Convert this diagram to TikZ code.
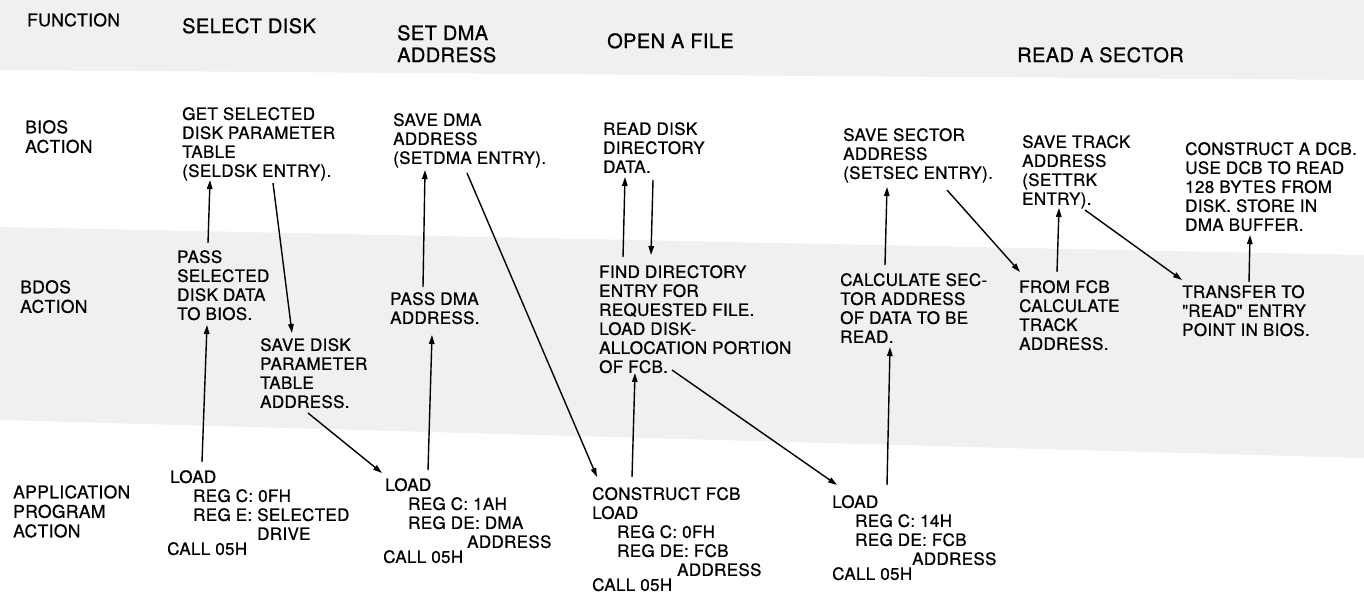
\documentclass[tikz,border=0pt]{standalone}
\usepackage{fontspec}
\setmainfont[LetterSpace=2,FakeBold=0.8]{TeX Gyre Heros}
\usetikzlibrary{arrows.meta}

\begin{document}
\begin{tikzpicture}[x=1pt, y=-1pt,
  every node/.style={inner sep=0pt, anchor=north west, align=left},
  hdr/.style={font=\fontsize{20}{22}\selectfont},
  lbl/.style={font=\fontsize{17.5}{19.5}\selectfont},
  txt/.style={font=\fontsize{17}{19}\selectfont},
  arr/.style={line width=1.4pt, -{Triangle[length=9pt,width=5.5pt]}}]
  \useasboundingbox (0,0) rectangle (1364,594);

  % Shaded bands of the page
  \fill[black!6] (0,0) -- (1364,0) -- (1364,80) -- (0,70) -- cycle;
  \fill[black!6] (0,227) -- (1364,255) -- (1364,458) -- (0,420) -- cycle;

  % Row labels
  \node[lbl] (fn)      at (27,13)  {FUNCTION};
  \node[lbl] (bioslbl) at (25,120) {BIOS\\ACTION};
  \node[lbl] (bdoslbl) at (20,280) {BDOS\\ACTION};
  \node[lbl] (applbl)  at (13,485) {APPLICATION\\PROGRAM\\ACTION};

  % Function headers
  \node[hdr] (selhd)  at (182,18)  {SELECT DISK};
  \node[hdr] (dmahd)  at (397,25)  {SET DMA\\ADDRESS};
  \node[hdr] (openhd) at (607,33)  {OPEN A FILE};
  \node[hdr] (readhd) at (1017,47) {READ A SECTOR};

  % BIOS actions
  \node[txt] (getdpt)  at (182,107)  {GET SELECTED\\DISK PARAMETER\\TABLE\\(SELDSK ENTRY).};
  \node[txt] (savedma) at (393,113)  {SAVE DMA\\ADDRESS\\(SETDMA ENTRY).};
  \node[txt] (readdir) at (603,122)  {READ DISK\\DIRECTORY\\DATA.};
  \node[txt] (savesec) at (843,128)  {SAVE SECTOR\\ADDRESS\\(SETSEC ENTRY).};
  \node[txt] (savetrk) at (1022,135) {SAVE TRACK\\ADDRESS\\(SETTRK\\ENTRY).};
  \node[txt] (mkdcb)   at (1185,142) {CONSTRUCT A DCB.\\USE DCB TO READ\\128 BYTES FROM\\DISK. STORE IN\\DMA BUFFER.};

  % BDOS actions
  \node[txt] (passsel) at (177,250)  {PASS\\SELECTED\\DISK DATA\\TO BIOS.};
  \node[txt] (savedpt) at (260,338)  {SAVE DISK\\PARAMETER\\TABLE\\ADDRESS.};
  \node[txt] (passdma) at (390,292)  {PASS DMA\\ADDRESS.};
  \node[txt] (finddir) at (599,265)  {FIND DIRECTORY\\ENTRY FOR\\REQUESTED FILE.\\LOAD DISK-\\ALLOCATION PORTION\\OF FCB.};
  \node[txt] (calcsec) at (840,273)  {CALCULATE SEC-\\TOR ADDRESS\\OF DATA TO BE\\READ.};
  \node[txt] (calctrk) at (1019,280) {FROM FCB\\CALCULATE\\TRACK\\ADDRESS.};
  \node[txt] (xfer)    at (1182,285) {TRANSFER TO\\\textquotedbl READ\textquotedbl{} ENTRY\\POINT IN BIOS.};

  % Application program actions
  \node[txt] (ldsel)  at (167,470) {\hspace*{3pt}LOAD\\
    \hspace*{26pt}REG C: 0FH\\
    \hspace*{26pt}REG E: SELECTED\\
    \hspace*{26pt}\phantom{REG E: }DRIVE\\[-4pt]
    CALL 05H};
  \node[txt] (lddma)  at (383,478) {\hspace*{2pt}LOAD\\
    \hspace*{25pt}REG C: 1AH\\
    \hspace*{25pt}REG DE: DMA\\
    \hspace*{84pt}ADDRESS\\[-4pt]
    CALL 05H};
  \node[txt] (ldopen) at (592,487) {CONSTRUCT FCB\\LOAD\\
    \hspace*{25pt}REG C: 0FH\\
    \hspace*{25pt}REG DE: FCB\\
    \hspace*{85pt}ADDRESS\\[-4pt]
    CALL 05H};
  \node[txt] (ldread) at (832,495) {LOAD\\
    \hspace*{23pt}REG C: 14H\\
    \hspace*{23pt}REG DE: FCB\\
    \hspace*{80pt}ADDRESS\\[-4pt]
    CALL 05H};

  % Select disk
  \draw[arr] ([shift={(31,-7)}]passsel.north west) -- ([shift={(28,73)}]getdpt.north west);
  \draw[arr] ([shift={(91,76)}]getdpt.north west) -- ([shift={(32,-5)}]savedpt.north west);
  \draw[arr] ([shift={(35,-8)}]ldsel.north west) -- ([shift={(30,75)}]passsel.north west);
  \draw[arr] ([shift={(48,75)}]savedpt.north west) -- ([shift={(-1,-5)}]lddma.north west);

  % Set DMA address
  \draw[arr] ([shift={(45,-8)}]lddma.north west) -- ([shift={(42,43)}]passdma.north west);
  \draw[arr] ([shift={(33,-5)}]passdma.north west) -- ([shift={(32,57)}]savedma.north west);
  \draw[arr] ([shift={(74,60)}]savedma.north west) -- ([shift={(5,-10)}]ldopen.north west);

  % Open a file
  \draw[arr] ([shift={(40,-10)}]ldopen.north west) -- ([shift={(36,108)}]finddir.north west);
  \draw[arr] ([shift={(24,-8)}]finddir.north west) -- ([shift={(22,55)}]readdir.north west);
  \draw[arr] ([shift={(50,58)}]readdir.north west) -- ([shift={(52,-10)}]finddir.north west);
  \draw[arr] ([shift={(73,105)}]finddir.north west) -- ([shift={(5,-10)}]ldread.north west);

  % Read a sector
  \draw[arr] ([shift={(55,-10)}]ldread.north west) -- ([shift={(50,74)}]calcsec.north west);
  \draw[arr] ([shift={(45,-8)}]calcsec.north west) -- ([shift={(44,59)}]savesec.north west);
  \draw[arr] ([shift={(104,62)}]savesec.north west) -- ([shift={(1,-8)}]calctrk.north west);
  \draw[arr] ([shift={(38,-8)}]calctrk.north west) -- ([shift={(37,73)}]savetrk.north west);
  \draw[arr] ([shift={(63,75)}]savetrk.north west) -- ([shift={(0,-5)}]xfer.north west);
  \draw[arr] ([shift={(67,-3)}]xfer.north west) -- ([shift={(65,93)}]mkdcb.north west);
\end{tikzpicture}
\end{document}
